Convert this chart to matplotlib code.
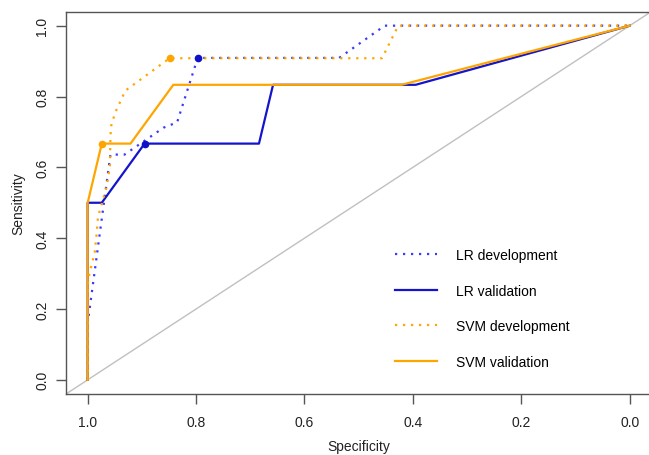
import matplotlib
matplotlib.use("Agg")
import matplotlib.pyplot as plt

plt.rcParams["font.family"] = ["Liberation Sans", "DejaVu Sans"]

# ROC curves (specificity, sensitivity)
lr_dev_spec = [1.0, 1.0, 0.958, 0.932, 0.86, 0.835, 0.797, 0.536, 0.452, 0.0]
lr_dev_sens = [0.0, 0.16, 0.636, 0.636, 0.712, 0.727, 0.909, 0.909, 1.0, 1.0]

lr_val_spec = [1.0, 1.0, 0.974, 0.895, 0.684, 0.658, 0.395, 0.0]
lr_val_sens = [0.0, 0.5, 0.5, 0.667, 0.667, 0.833, 0.833, 1.0]

svm_dev_spec = [1.0, 1.0, 0.997, 0.987, 0.983, 0.981, 0.965, 0.959, 0.958,
                0.956, 0.947, 0.936, 0.931, 0.849, 0.457, 0.427, 0.0]
svm_dev_sens = [0.0, 0.27, 0.298, 0.36, 0.42, 0.46, 0.545, 0.605, 0.69,
                0.724, 0.762, 0.798, 0.816, 0.908, 0.908, 1.0, 1.0]

svm_val_spec = [1.0, 1.0, 0.974, 0.921, 0.842, 0.421, 0.0]
svm_val_sens = [0.0, 0.5, 0.667, 0.667, 0.833, 0.833, 1.0]

# best thresholds (dots)
best_spec = {"lr_dev": 0.797, "lr_val": 0.895, "svm_dev": 0.849, "svm_val": 0.974}
best_sens = {"lr_dev": 0.909, "lr_val": 0.667, "svm_dev": 0.908, "svm_val": 0.667}

labels = ["LR development", "LR validation", "SVM development", "SVM validation"]
ticks = [1.0, 0.8, 0.6, 0.4, 0.2, 0.0]

BLUE_DOT = "#3a3aff"
BLUE = "#1414cc"
ORANGE = "#ffa500"
AXC = "#555555"

fig = plt.figure(figsize=(6.49, 4.56), dpi=100)
ax = fig.add_axes([66 / 649, 61 / 456, 585.4 / 649, 382.5 / 456])

ax.axline((1, 0), (0, 1), color="#c0c0c0", lw=1.0, zorder=1)

dots = (0, (1, 2.6))
ax.plot(lr_dev_spec, lr_dev_sens, color=BLUE_DOT, lw=1.6, ls=dots,
        label=labels[0], zorder=2)
ax.plot(lr_val_spec, lr_val_sens, color=BLUE, lw=1.6, label=labels[1], zorder=3)
ax.plot(svm_dev_spec, svm_dev_sens, color=ORANGE, lw=1.6, ls=dots,
        label=labels[2], zorder=4)
ax.plot(svm_val_spec, svm_val_sens, color=ORANGE, lw=1.6, label=labels[3], zorder=5)

for key, c in [("lr_dev", "#1010c8"), ("lr_val", "#1010c8"),
               ("svm_dev", ORANGE), ("svm_val", ORANGE)]:
    ax.plot([best_spec[key]], [best_sens[key]], "o", color=c, ms=5.5,
            mew=0, zorder=6)

ax.set_xlim(1.04, -0.04)
ax.set_ylim(-0.04, 1.04)
ax.set_xticks(ticks)
ax.set_xticklabels([f"{t:.1f}" for t in ticks])
ax.set_yticks(ticks[::-1])
ax.set_yticklabels([f"{t:.1f}" for t in ticks[::-1]], rotation=90, va="center")
ax.tick_params(colors=AXC, labelcolor="#222222", labelsize=10, length=7,
               width=1.0)
ax.tick_params(axis="x", pad=8)
ax.tick_params(axis="y", pad=5)
for side in ["left", "bottom", "top"]:
    ax.spines[side].set_color(AXC)
    ax.spines[side].set_linewidth(1.0)
ax.spines["right"].set_visible(False)

ax.set_xlabel("Specificity", fontsize=10, color="#222222", labelpad=7)
ax.set_ylabel("Sensitivity", fontsize=10, color="#222222", labelpad=7)

ax.legend(loc="upper left", bbox_to_anchor=(395 / 649, 1 - 249 / 456),
          bbox_transform=fig.transFigure, frameon=False, fontsize=10,
          handlelength=3.0, handletextpad=1.4, labelspacing=1.55,
          borderpad=0, borderaxespad=0)

fig.savefig("out.png", dpi=100)
